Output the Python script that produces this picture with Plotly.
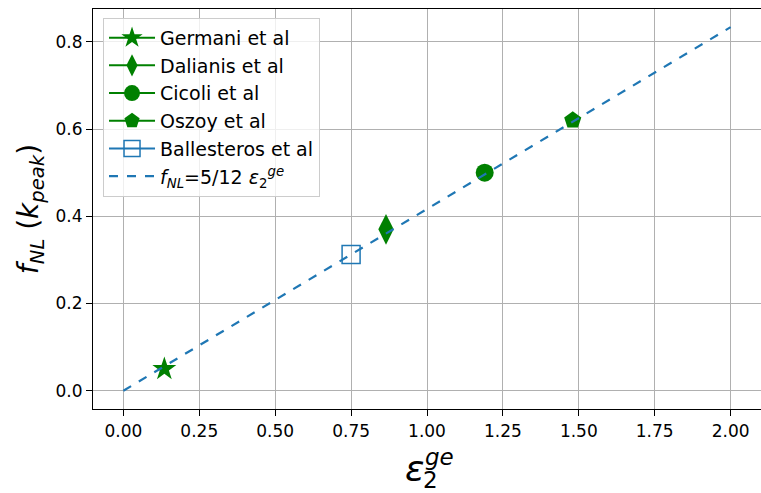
import plotly.graph_objects as go

names = ["Germani et al", "Dalianis et al", "Cicoli et al", "Oszoy et al", "Ballesteros et al"]
eps_vals = [0.135, 0.865, 1.19, 1.48, 0.75]
fnl_vals = [0.05, 0.37, 0.50, 0.62, 0.3125]
symbols = ["star", "diamond-tall", "circle", "pentagon", "square-open"]
colors = ["green", "green", "green", "green", "#1f77b4"]
sizes = [18, 22, 18, 18, 18]

line_x = [0.0, 2.0]
line_y = [5 / 12 * v for v in line_x]

fig = go.Figure()
for n, x, y, s, c, sz in zip(names, eps_vals, fnl_vals, symbols, colors, sizes):
    fig.add_trace(go.Scatter(
        x=[x], y=[y], mode="lines+markers", name=n,
        marker=dict(symbol=s, size=sz, color=c, line=dict(color=c, width=1.5 if "open" in s else 0)),
        line=dict(color=c, width=2),
    ))
fig.add_trace(go.Scatter(
    x=line_x, y=line_y, mode="lines",
    name="<i>f</i><sub><i>NL</i></sub>=5/12 <i>ε</i><sub>2</sub><sup><i>ge</i></sup>",
    line=dict(color="#1f77b4", width=2.2, dash="dash"),
))

axis_common = dict(
    showgrid=True, gridcolor="#b0b0b0", gridwidth=1,
    showline=True, linecolor="black", linewidth=1.2, mirror=True,
    ticks="outside", ticklen=6, tickcolor="black",
    tickfont=dict(family="DejaVu Sans", size=17, color="black"),
    zeroline=False,
)

fig.update_layout(
    width=761, height=493,
    margin=dict(l=93, r=0, t=9, b=84),
    paper_bgcolor="white", plot_bgcolor="white",
    font=dict(family="DejaVu Sans", color="black"),
    xaxis=dict(range=[-0.1, 2.1], tickvals=[0, 0.25, 0.5, 0.75, 1.0, 1.25, 1.5, 1.75, 2.0],
               ticktext=["0.00", "0.25", "0.50", "0.75", "1.00", "1.25", "1.50", "1.75", "2.00"],
               **axis_common),
    yaxis=dict(range=[-0.0417, 0.875], tickvals=[0, 0.2, 0.4, 0.6, 0.8],
               ticktext=["0.0", "0.2", "0.4", "0.6", "0.8"],
               title=dict(text="<i>f</i><sub><i>NL</i></sub> (<i>k</i><sub><i>peak</i></sub>)", font=dict(size=28), standoff=8),
               **axis_common),
    legend=dict(x=0.015, y=0.978, xanchor="left", yanchor="top",
                bgcolor="rgba(255,255,255,0.8)", bordercolor="#cccccc", borderwidth=1,
                font=dict(family="DejaVu Sans", size=19, color="black"),
                itemwidth=46, tracegroupgap=0),
    showlegend=True,
)

# stacked x-axis title: epsilon with sub 2 and sup ge
fig.add_annotation(text="<i>ε</i>", xref="paper", yref="paper", x=(414 - 93) / 667, y=0,
                   xanchor="center", yanchor="top", yshift=-37, showarrow=False,
                   font=dict(family="DejaVu Sans", size=36, color="black"))
fig.add_annotation(text="<i>ge</i>", xref="paper", yref="paper", x=(424 - 93) / 667, y=0,
                   xanchor="left", yanchor="top", yshift=-34, showarrow=False, borderpad=0,
                   font=dict(family="DejaVu Sans", size=23, color="black"))
fig.add_annotation(text="2", xref="paper", yref="paper", x=(422 - 93) / 667, y=0,
                   xanchor="left", yanchor="top", yshift=-57, showarrow=False, borderpad=0,
                   font=dict(family="DejaVu Sans", size=23, color="black"))

fig.write_html("out.html")
